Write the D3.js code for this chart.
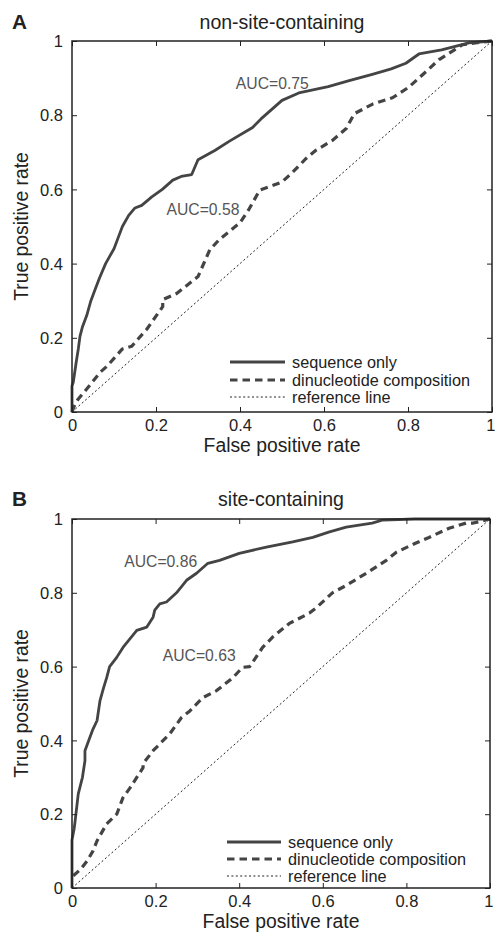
<!DOCTYPE html>
<html><head><meta charset="utf-8">
<script src="https://cdn.jsdelivr.net/npm/d3@7"></script>
<style>
html,body{margin:0;padding:0;background:#fff;}
svg text{font-family:"Liberation Sans",Arial,Helvetica,sans-serif;}
</style></head>
<body><svg id="c" width="495" height="932"></svg>
<script>
// ---- data ----
const tickValues = [0, 0.2, 0.4, 0.6, 0.8, 1];
const tickLabels = ["0", "0.2", "0.4", "0.6", "0.8", "1"];
const seriesNames = ["sequence only", "dinucleotide composition", "reference line"];
const panelTitles = ["non-site-containing", "site-containing"];
const panelLetters = ["A", "B"];
const aucLabels = [["AUC=0.75", "AUC=0.58"], ["AUC=0.86", "AUC=0.63"]];
const aucPos = [[[0.39, 0.885], [0.225, 0.545]], [[0.125, 0.885], [0.217, 0.63]]];

const seqA_fpr = [0,0,0.003,0.01,0.015,0.019,0.025,0.035,0.045,0.055,0.065,0.08,0.09,0.1,0.11,0.12,0.135,0.15,0.166,0.19,0.215,0.24,0.26,0.285,0.30,0.34,0.375,0.43,0.45,0.50,0.54,0.61,0.66,0.715,0.76,0.795,0.826,0.88,0.945,1];
const seqA_tpr = [0,0.07,0.08,0.134,0.17,0.204,0.23,0.26,0.30,0.33,0.36,0.40,0.42,0.44,0.47,0.50,0.53,0.55,0.557,0.58,0.60,0.625,0.635,0.64,0.68,0.705,0.73,0.767,0.79,0.84,0.86,0.877,0.893,0.91,0.925,0.94,0.965,0.976,0.995,1];
const dinA_fpr = [0,0.005,0.012,0.015,0.035,0.067,0.083,0.12,0.142,0.178,0.216,0.216,0.25,0.30,0.328,0.35,0.40,0.42,0.447,0.50,0.525,0.558,0.58,0.62,0.653,0.672,0.716,0.763,0.80,0.826,0.874,0.93,0.96,1];
const dinA_tpr = [0,0.015,0.03,0.035,0.062,0.107,0.123,0.17,0.177,0.223,0.284,0.303,0.32,0.365,0.437,0.464,0.51,0.544,0.598,0.62,0.646,0.684,0.705,0.732,0.764,0.804,0.83,0.847,0.874,0.90,0.95,0.99,0.995,1];
const seqB_fpr = [0,0,0.005,0.007,0.015,0.025,0.031,0.031,0.04,0.05,0.06,0.067,0.075,0.083,0.09,0.107,0.122,0.155,0.179,0.194,0.198,0.21,0.226,0.25,0.274,0.298,0.325,0.353,0.40,0.465,0.528,0.576,0.616,0.656,0.718,0.742,0.82,1];
const seqB_tpr = [0,0.13,0.16,0.177,0.255,0.30,0.345,0.372,0.40,0.43,0.454,0.508,0.54,0.57,0.60,0.625,0.652,0.698,0.707,0.734,0.753,0.77,0.775,0.80,0.834,0.853,0.88,0.888,0.907,0.924,0.938,0.95,0.965,0.978,0.989,0.997,1,1];
const dinB_fpr = [0.003,0.02,0.036,0.05,0.06,0.083,0.107,0.122,0.138,0.17,0.17,0.194,0.234,0.262,0.282,0.313,0.346,0.385,0.408,0.425,0.44,0.456,0.48,0.52,0.568,0.585,0.623,0.656,0.704,0.752,0.776,0.823,0.854,0.902,0.943,0.96,1];
const dinB_tpr = [0.033,0.05,0.073,0.10,0.128,0.174,0.20,0.245,0.27,0.326,0.337,0.372,0.418,0.462,0.48,0.516,0.535,0.57,0.598,0.60,0.625,0.652,0.68,0.717,0.745,0.76,0.80,0.82,0.853,0.888,0.91,0.935,0.95,0.975,0.989,0.989,1];
const ref_fpr = [0, 1];
const ref_tpr = [0, 1];

// ---- layout ----
const panels = [
  {x0:72, x1:492, y0:41, y1:412, seq:[seqA_fpr,seqA_tpr], din:[dinA_fpr,dinA_tpr], legX:230, legW:55, legY:[362,380,397]},
  {x0:72, x1:490, y0:519, y1:888, seq:[seqB_fpr,seqB_tpr], din:[dinB_fpr,dinB_tpr], legX:227, legW:54, legY:[842,859,876]}
];
const svg = d3.select("#c");

// font sizes fitted to reference text widths
function fit(txt, target, weight) {
  const t = svg.append("text").attr("font-size", 20).attr("font-weight", weight || "normal").text(txt);
  const w = t.node().getComputedTextLength();
  t.remove();
  return 20 * target / w;
}
const fsTitle = fit("non-site-containing", 165);
const fsAxis = fit("False positive rate", 157);
const fsLeg = fit("dinucleotide composition", 178);
const fsAuc = fit("AUC=0.75", 73);
const fsTick = fit("0.8", 23);
const fsLetter = fit("A", 15, "bold");

const lineCol = "#444";
const styles = [
  {w:2.8, dash:null, col:lineCol},
  {w:3.2, dash:"7.5,5", col:lineCol},
  {w:1, dash:"2,2.4", col:"#222"}
];

panels.forEach((p, i) => {
  const g = svg.append("g");
  const x = d3.scaleLinear().domain([0,1]).range([p.x0, p.x1]);
  const y = d3.scaleLinear().domain([0,1]).range([p.y1, p.y0]);
  const line = d3.line().x(d=>x(d[0])).y(d=>y(d[1]));
  const pts = (a) => a[0].map((v,k)=>[v, a[1][k]]);

  const curves = [pts(p.seq), pts(p.din), pts([ref_fpr, ref_tpr])];
  [2,1,0].forEach(k => {
    g.append("path").attr("d", line(curves[k])).attr("fill","none")
      .attr("stroke", styles[k].col).attr("stroke-width", styles[k].w)
      .attr("stroke-dasharray", styles[k].dash).attr("stroke-linejoin","round");
  });

  const tl = 5;
  const axB = d3.axisBottom(x).tickValues(tickValues).tickFormat((d,k)=>tickLabels[k]).tickSizeInner(-tl).tickSizeOuter(0).tickPadding(7);
  const axL = d3.axisLeft(y).tickValues(tickValues).tickFormat((d,k)=>tickLabels[k]).tickSizeInner(-tl).tickSizeOuter(0).tickPadding(9);
  const axT = d3.axisTop(x).tickValues(tickValues).tickFormat("").tickSizeInner(-tl).tickSizeOuter(0);
  const axR = d3.axisRight(y).tickValues(tickValues).tickFormat("").tickSizeInner(-tl).tickSizeOuter(0);
  const gb = g.append("g").attr("transform",`translate(0,${p.y1})`).call(axB);
  const gl = g.append("g").attr("transform",`translate(${p.x0},0)`).call(axL);
  g.append("g").attr("transform",`translate(0,${p.y0})`).call(axT);
  g.append("g").attr("transform",`translate(${p.x1},0)`).call(axR);
  g.selectAll(".domain").remove();
  g.selectAll(".tick line").attr("stroke","#222").attr("stroke-width",1);
  g.selectAll(".tick text").attr("font-size",fsTick).attr("fill","#222").attr("font-family",null);
  gl.selectAll(".tick text").attr("dy","0.35em");
  // keep the last x tick label inside the page
  gb.selectAll(".tick text").filter(d=>d===1).attr("text-anchor","end").attr("x",3);
  g.append("rect").attr("x",p.x0).attr("y",p.y0).attr("width",p.x1-p.x0).attr("height",p.y1-p.y0)
    .attr("fill","none").attr("stroke","#222").attr("stroke-width",1.5);

  const cx = (p.x0+p.x1)/2, cy = (p.y0+p.y1)/2;
  g.append("text").attr("x",cx).attr("y",p.y0-19 - (i?1:0)).attr("dy","0.35em").attr("text-anchor","middle")
    .attr("font-size",fsTitle).attr("fill","#222").text(panelTitles[i]);
  g.append("text").attr("x",12).attr("y",p.y0-19 - (i?1:0)).attr("dy","0.35em")
    .attr("font-size",fsLetter).attr("font-weight","bold").attr("fill","#222").text(panelLetters[i]);
  g.append("text").attr("x",cx).attr("y",p.y1+33.5).attr("dy","0.35em").attr("text-anchor","middle")
    .attr("font-size",fsAxis).attr("fill","#222").text("False positive rate");
  g.append("text").attr("transform",`translate(21,${cy}) rotate(-90)`).attr("dy","0.35em").attr("text-anchor","middle")
    .attr("font-size",fsAxis).attr("fill","#222").text("True positive rate");

  aucLabels[i].forEach((t,k)=>{
    g.append("text").attr("x",x(aucPos[i][k][0])).attr("y",y(aucPos[i][k][1])).attr("dy","0.35em")
      .attr("font-size",fsAuc).attr("fill","#555").text(t);
  });

  seriesNames.forEach((n,k)=>{
    const ly = p.legY[k];
    g.append("line").attr("x1",p.legX).attr("x2",p.legX+p.legW).attr("y1",ly).attr("y2",ly)
      .attr("stroke",styles[k].col).attr("stroke-width",styles[k].w).attr("stroke-dasharray",styles[k].dash);
    g.append("text").attr("x",p.legX+p.legW+7).attr("y",ly).attr("dy","0.35em")
      .attr("font-size",fsLeg).attr("fill","#222").text(n);
  });
});
</script></body></html>
